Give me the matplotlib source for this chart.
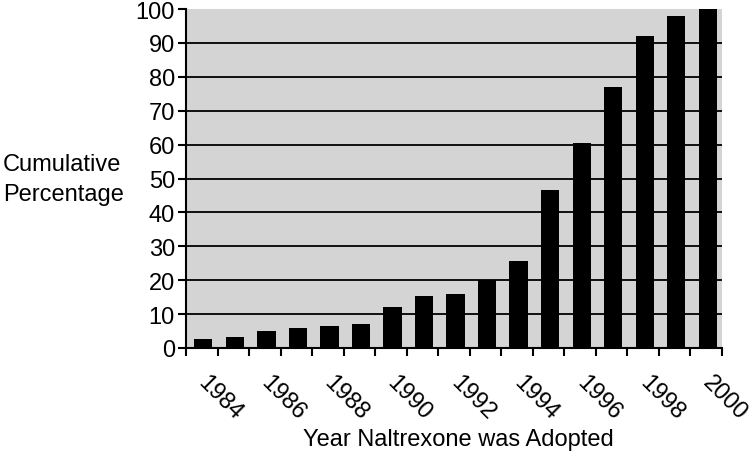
import matplotlib
matplotlib.use("Agg")
import matplotlib.pyplot as plt
import numpy as np

# Jahre und kumulierte Prozente
years = list(range(1984, 2001))
percent = [2.7, 3.3, 5.0, 5.8, 6.4, 7.1, 12.2, 15.3, 16.0, 20.0,
           25.6, 46.6, 60.5, 77.0, 92.0, 98.0, 100.0]
y_ticks = list(range(0, 101, 10))

plt.rcParams['font.family'] = ['Liberation Sans', 'DejaVu Sans']

fig = plt.figure(figsize=(7.56, 4.60), dpi=100)
ax = fig.add_axes([186 / 756, 111 / 460, 536 / 756, 339 / 460])
ax.set_facecolor('#d4d4d4')

x = np.arange(len(years))
ax.bar(x + 0.05, percent, width=0.58, color='black', zorder=3)

# Gitterlinien
for v in y_ticks[1:-1]:
    ax.axhline(v, color='black', linewidth=1.3, zorder=2)

ax.set_xlim(-0.5, len(years) - 0.5)
ax.set_ylim(0, 100)

ax.set_yticks(y_ticks)
ax.tick_params(axis='y', direction='out', length=6, width=1.5, labelsize=17, pad=2)

ax.set_xticks(x[::2])
ax.set_xticklabels([str(y) for y in years[::2]], rotation=-45,
                   ha='left', va='center', rotation_mode='anchor')
ax.set_xticks(np.arange(-0.5, len(years)), minor=True)
ax.tick_params(axis='x', which='major', length=0, labelsize=17, pad=22)
ax.tick_params(axis='x', which='minor', direction='out', length=6, width=1.5)

for side in ['top', 'right']:
    ax.spines[side].set_visible(False)
for side in ['left', 'bottom']:
    ax.spines[side].set_linewidth(1.5)

fig.text(458 / 756, 1 - 440 / 460, "Year Naltrexone was Adopted", fontsize=17,
         ha='center', va='center')
fig.text(3 / 756, 1 - 180 / 460, "Cumulative\nPercentage", fontsize=17,
         ha='left', va='center', linespacing=1.45)

fig.savefig("out.png", dpi=100)
